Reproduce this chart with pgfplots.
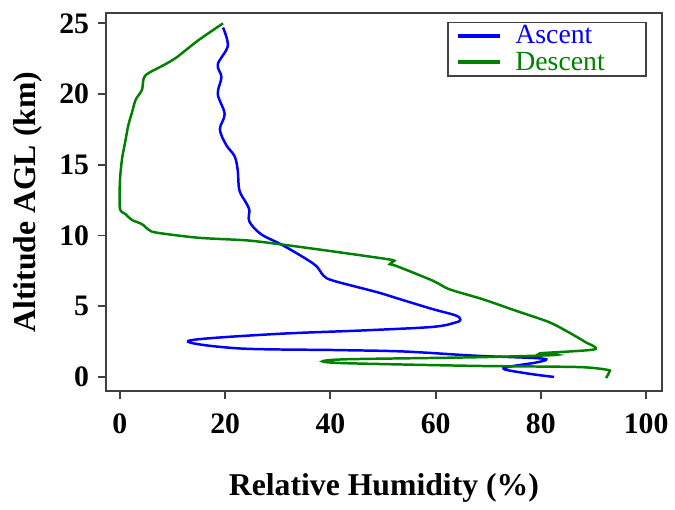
\documentclass[border=0pt]{standalone}
\usepackage{pgfplots}
\pgfplotsset{compat=1.18}
\usepackage{fontspec}
\setmainfont{Liberation Serif}
\definecolor{ascblue}{RGB}{0,0,255}
\definecolor{desgreen}{RGB}{0,128,0}
\begin{document}
\begin{tikzpicture}
\begin{axis}[
  scale only axis,
  width=280.5pt, height=191pt,
  xmin=-2.64, xmax=103.0,
  ymin=-1.02, ymax=25.74,
  xtick={0,20,40,60,80,100},
  ytick={0,5,10,15,20,25},
  tick align=outside,
  tick pos=left,
  major tick length=4pt,
  axis line style={draw=black!75, line width=0.9pt},
  every tick/.style={draw=black!75, line width=0.9pt},
  /pgf/number format/assume math mode=true,
  tick label style={font=\bfseries\fontsize{15}{15}\selectfont},
  xticklabel style={yshift=-4pt},
  yticklabel style={xshift=-1pt},
  xlabel={Relative Humidity (\%)},
  ylabel={Altitude AGL (km)},
  label style={font=\bfseries\fontsize{16}{16}\selectfont},
  xlabel style={yshift=-13pt},
  ylabel style={yshift=2pt},
  clip=false,
  legend style={at={(0.973,0.976)}, anchor=north east, draw=black!75, line width=0.7pt,
    font=\fontsize{14}{14}\selectfont, inner xsep=4pt, inner ysep=1pt,
    row sep=1.5pt,
    nodes={inner ysep=0.5pt},
    /tikz/every odd column/.append style={column sep=5pt}},
  legend cell align=left,
  legend image code/.code={\draw[#1, line width=2pt] (0pt,0pt) -- (21pt,0pt);},
]
\addplot[ascblue, line width=1.25pt, smooth, tension=0.55] coordinates {
(19.6,24.7) (20.5,23.4) (18.6,22.1) (19.3,21.2) (18.6,20.0) (19.9,18.6)
(19.0,17.5) (20.2,16.4) (21.8,15.6) (22.4,14.6) (22.7,13.2) (24.0,12.3)
(24.6,11.8) (24.6,11.0) (26.8,10.1) (31.2,9.26) (36.9,7.97) (38.7,7.16)
(40.6,6.8) (48.8,6.0) (53.2,5.5) (59.4,4.8) (63.8,4.35) (64.7,4.05)
(63.8,3.85) (59.5,3.54) (46.9,3.3) (28.8,3.02) (13.0,2.55) (22.5,2.02)
(41.3,1.9) (53.9,1.8) (67.6,1.5) (80.2,1.3) (79.5,1.05) (72.9,0.62)
(77.0,0.27) (82.5,0.0)
};
\addlegendentry{\makebox[60pt][l]{\textcolor{ascblue}{Ascent}}}
\addplot[desgreen, line width=1.25pt, smooth, tension=0.45] coordinates {
(19.6,25.0) (14.9,23.8) (10.8,22.6) (8.6,22.1) (4.8,21.3) (4.2,20.3)
(3.0,19.6) (2.3,18.7) (1.6,17.8) (1.1,16.8) (0.4,15.4) (0.0,13.8)
(0.0,11.9) (1.1,11.5) (2.3,11.1) (4.2,10.8) (5.5,10.4) (7.0,10.2)
(14.9,9.84) (24.3,9.65) (30.6,9.37) (40.0,8.9) (51.3,8.3) (51.9,8.16)
(51.3,7.97) (52.5,7.85) (59.5,6.8) (62.6,6.2) (68.9,5.5) (75.1,4.7)
(81.4,3.9) (84.6,3.3) (88.3,2.5) (90.2,1.95) (79.8,1.67) (82.7,1.55)
(67.6,1.39) (43.1,1.25) (38.5,1.1) (43.1,0.97) (67.6,0.78) (87.1,0.7)
(92.7,0.5) (93.0,0.35) (92.4,-0.08)
};
\addlegendentry{\makebox[60pt][l]{\textcolor{desgreen}{Descent}}}
\path (rel axis cs:-0.1907,-0.2906) rectangle (rel axis cs:1.0125,1.034);
\end{axis}
\end{tikzpicture}
\end{document}
